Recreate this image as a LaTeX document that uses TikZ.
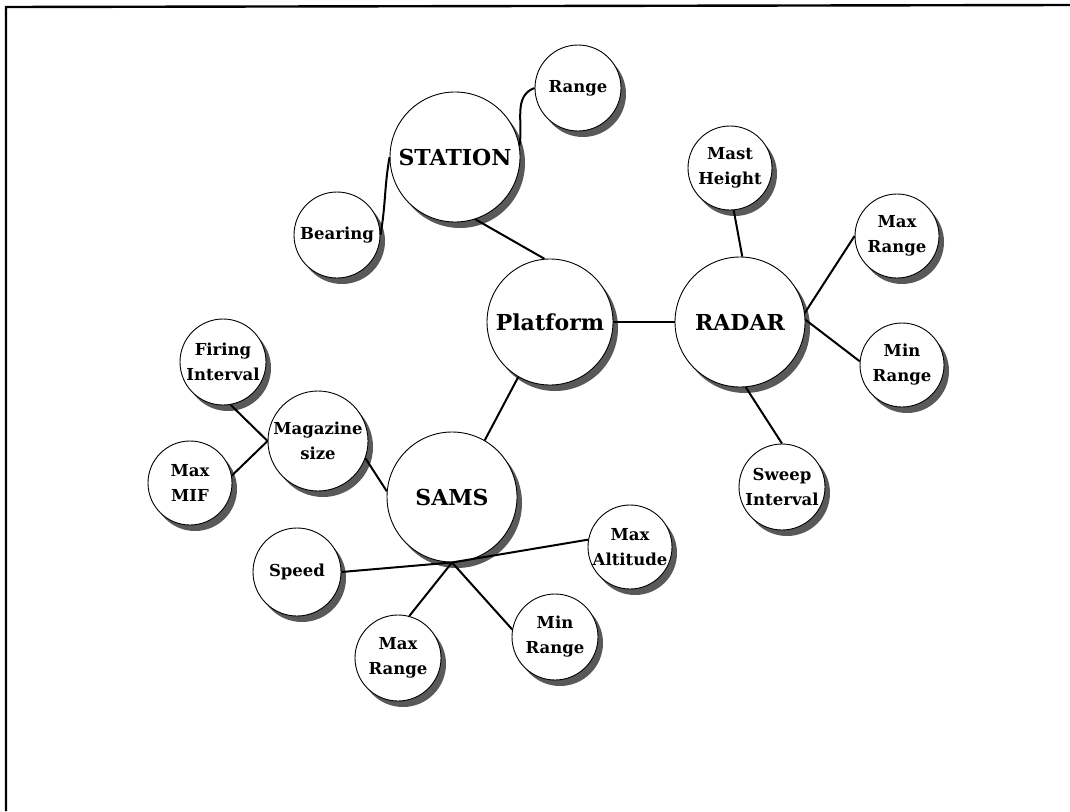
\documentclass[tikz,border=0pt]{standalone}
\usepackage{fontspec}
\setmainfont{DejaVu Serif}
\usetikzlibrary{positioning,shadows}

\tikzset{
  bubble/.style={circle,draw,line width=0.9pt,fill=white,inner sep=0pt,align=center,
    minimum size=86pt,font=\bfseries\fontsize{16.5}{25}\selectfont,
    drop shadow={shadow xshift=5pt,shadow yshift=-6pt,fill=black!65,opacity=1}},
  hub/.style={bubble,minimum size=130pt,font=\bfseries\fontsize{22}{24}\selectfont},
  link/.style={line width=2pt}
}

\begin{document}
\begin{tikzpicture}[x=1pt,y=1pt,on grid]
        \useasboundingbox (0,0) rectangle (1070,-811);
        %frame
        \draw[line width=2.4pt] (6,-811) -- (6,-7) -- (1070,-5);

        %hubs
        \node[hub,minimum size=126pt] (platform) at (550,-322) {Platform};
        \node[hub,right=190pt of platform] (radar) {RADAR};
        \node[hub,above left=165pt and 95pt of platform] (station) {STATION};
        \node[hub,below left=175pt and 98pt of platform] (sams) {SAMS};

        %station leaves
        \node[bubble,above right=69pt and 123pt of station] (range) {Range};
        \node[bubble,below left=78pt and 118pt of station] (bearing) {Bearing};

        %radar leaves
        \node[bubble,minimum size=84pt,above left=154pt and 10pt of radar] (mast) {Mast\\Height};
        \node[bubble,minimum size=84pt,above right=86pt and 157pt of radar] (radarmax) {Max\\Range};
        \node[bubble,minimum size=84pt,below right=43pt and 162pt of radar] (radarmin) {Min\\Range};
        \node[bubble,below right=165pt and 42pt of radar] (sweep) {Sweep\\Interval};

        %sams leaves
        \node[bubble,minimum size=100pt,above left=56pt and 134pt of sams] (magazine) {Magazine\\size};
        \node[bubble,above left=79pt and 95pt of magazine] (firing) {Firing\\Interval};
        \node[bubble,minimum size=84pt,below left=42pt and 128pt of magazine] (maxmif) {Max\\MIF};
        \node[bubble,minimum size=88pt,below left=75pt and 155pt of sams] (speed) {Speed};
        \node[bubble,below left=161pt and 54pt of sams] (samsmax) {Max\\Range};
        \node[bubble,below right=140pt and 103pt of sams] (samsmin) {Min\\Range};
        \node[bubble,minimum size=84pt,below right=50pt and 178pt of sams] (altitude) {Max\\Altitude};

        %links
        \draw[link] (station.-72) -- (platform.95);
        \draw[link] (platform.east) -- (radar.west);
        \draw[link] (platform.240) -- (sams.60);
        \draw[link] (range.west) to[out=200,in=80] (station.10);
        \draw[link] (station.west) to[out=-100,in=80] (bearing.east);

        \draw[link] (mast.-85) -- (radar.88);
        \draw[link] (radar.8) -- (radarmax.west);
        \draw[link] (radar.2) -- (radarmin.175);
        \draw[link] (radar.-85) -- (sweep.north);

        \draw[link] (firing.-80) -- (magazine.west);
        \draw[link] (maxmif.10) -- (magazine.west);
        \draw[link] (magazine.-20) -- (sams.175);
        \draw[link] (sams.south) -- (speed.east);
        \draw[link] (sams.south) -- (altitude.170);
        \draw[link] (sams.south) -- (samsmax.75);
        \draw[link] (sams.south) -- (samsmin.170);
\end{tikzpicture}
\end{document}
